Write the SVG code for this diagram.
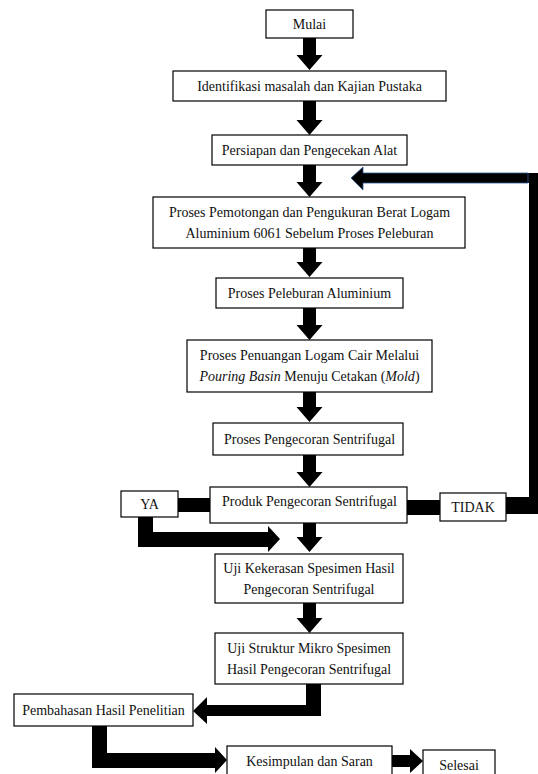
<svg xmlns="http://www.w3.org/2000/svg" width="538" height="774" viewBox="0 0 538 774">
<style>
.box{fill:#fff;stroke:#000;stroke-width:1.2}
.t{font-family:"Liberation Serif","Times New Roman",serif;font-size:14px;fill:#111;text-anchor:middle}
.ar{fill:#000}
</style>
<rect width="538" height="774" fill="#fff"/>
<g id="connectors">
<polygon class="ar" points="303,38 316,38 316,55 322.5,55 309.5,70 296.5,55 303,55"/>
<polygon class="ar" points="303,101 316,101 316,120 322.5,120 309.5,135 296.5,120 303,120"/>
<polygon class="ar" points="303,165 316,165 316,182 322.5,182 309.5,197 296.5,182 303,182"/>
<polygon class="ar" points="303,248 316,248 316,262 322.5,262 309.5,277 296.5,262 303,262"/>
<polygon class="ar" points="303,308 316,308 316,325 322.5,325 309.5,340 296.5,325 303,325"/>
<polygon class="ar" points="303,392 316,392 316,407 322.5,407 309.5,422 296.5,407 303,407"/>
<polygon class="ar" points="303,455 316,455 316,472 322.5,472 309.5,487 296.5,472 303,472"/>
<polygon class="ar" points="303,523 316,523 316,537 322.5,537 309.5,552 296.5,537 303,537"/>
<polygon class="ar" points="303,603 316,603 316,618 322.5,618 309.5,633 296.5,618 303,618"/>
<rect class="ar" x="177" y="498" width="34" height="14"/>
<rect class="ar" x="406" y="500" width="35" height="15"/>
<polygon class="ar" points="505,497 529,497 529,183 363,183 363,190 351,178 363,167 363,173 538,173 538,514 505,514"/>
<polygon fill="none" stroke="#2e5b9a" stroke-width="0.8" points="528,183 363,183 363,190 351,178 363,167 363,173 528,173"/>
<polygon class="ar" points="138,517 153,517 153,532 268,532 268,526 280,539 268,552 268,547 138,547"/>
<polygon class="ar" points="306,684 321,684 321,716 207,716 207,724 193,711 207,697 207,705 306,705"/>
<polygon class="ar" points="92,726 107,726 107,753 215,753 215,747 227,760 215,773 215,768 92,768"/>
<polygon class="ar" points="392,755 410,755 410,749 423,761 410,773 410,767 392,767"/>
</g>
<g id="n-mulai"><rect class="box" x="266" y="10" width="87" height="28"/><text class="t" x="309.5" y="29">Mulai</text></g>
<g id="n-identifikasi"><rect class="box" x="173" y="71" width="273" height="30"/><text class="t" x="309.5" y="91">Identifikasi masalah dan Kajian Pustaka</text></g>
<g id="n-persiapan"><rect class="box" x="212" y="135" width="195" height="30"/><text class="t" x="309.5" y="155">Persiapan dan Pengecekan Alat</text></g>
<g id="n-pemotongan"><rect class="box" x="153" y="197" width="312" height="51"/><text class="t" x="309.5" y="217">Proses Pemotongan dan Pengukuran Berat Logam</text><text class="t" x="309.5" y="238">Aluminium 6061 Sebelum Proses Peleburan</text></g>
<g id="n-peleburan"><rect class="box" x="216" y="278" width="187" height="30"/><text class="t" x="309.5" y="298">Proses Peleburan Aluminium</text></g>
<g id="n-penuangan"><rect class="box" x="187" y="340" width="245" height="52"/><text class="t" x="309.5" y="360">Proses Penuangan Logam Cair Melalui</text><text class="t" x="309.5" y="381"><tspan font-style="italic">Pouring Basin</tspan> Menuju Cetakan (<tspan font-style="italic">Mold</tspan>)</text></g>
<g id="n-pengecoran"><rect class="box" x="213" y="423" width="190" height="32"/><text class="t" x="309.5" y="444">Proses Pengecoran Sentrifugal</text></g>
<g id="n-produk"><rect class="box" x="210" y="487" width="197" height="36"/><text class="t" x="309.5" y="506">Produk Pengecoran Sentrifugal</text></g>
<g id="n-ya"><rect class="box" x="121" y="491" width="57" height="26"/><text class="t" x="149.5" y="509">YA</text></g>
<g id="n-tidak"><rect class="box" x="440" y="493" width="66" height="28"/><text class="t" x="473" y="512">TIDAK</text></g>
<g id="n-kekerasan"><rect class="box" x="215" y="554" width="188" height="49"/><text class="t" x="309" y="573">Uji Kekerasan Spesimen Hasil</text><text class="t" x="309" y="594">Pengecoran Sentrifugal</text></g>
<g id="n-struktur"><rect class="box" x="215" y="633" width="188" height="51"/><text class="t" x="309" y="653">Uji Struktur Mikro Spesimen</text><text class="t" x="309" y="674">Hasil Pengecoran Sentrifugal</text></g>
<g id="n-pembahasan"><rect class="box" x="14" y="694" width="179" height="32"/><text class="t" x="103.5" y="715">Pembahasan Hasil Penelitian</text></g>
<g id="n-kesimpulan"><rect class="box" x="227" y="746" width="165" height="40"/><text class="t" x="309.5" y="766">Kesimpulan dan Saran</text></g>
<g id="n-selesai"><rect class="box" x="423" y="750" width="72" height="36"/><text class="t" x="459" y="770">Selesai</text></g>
</svg>
